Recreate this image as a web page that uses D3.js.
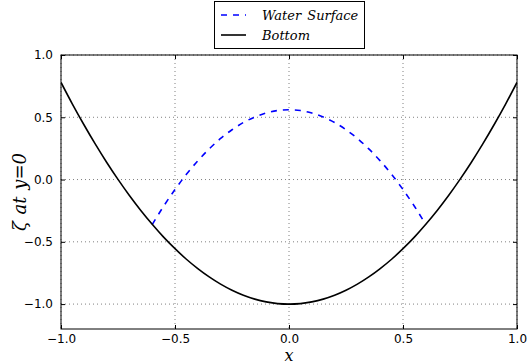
<!DOCTYPE html>
<html><head><meta charset="utf-8">
<script src="https://cdn.jsdelivr.net/npm/d3@7"></script>
<style>body{margin:0;background:#fff}svg{display:block}
.serif{font-family:"DejaVu Serif","Times New Roman",Times,serif;font-style:italic}</style>
</head><body>
<script>
const xTicks = [-1.0, -0.5, 0.0, 0.5, 1.0];
const yTicks = [-1.0, -0.5, 0.0, 0.5, 1.0];
const bottomX = [-1.0,-0.95,-0.9,-0.85,-0.8,-0.75,-0.7,-0.65,-0.6,-0.55,-0.5,-0.45,-0.4,-0.35,-0.3,-0.25,-0.2,-0.15,-0.1,-0.05,0,0.05,0.1,0.15,0.2,0.25,0.3,0.35,0.4,0.45,0.5,0.55,0.6,0.65,0.7,0.75,0.8,0.85,0.9,0.95,1.0];
const bottomY = [0.78,0.606,0.442,0.286,0.139,0.001,-0.128,-0.248,-0.359,-0.462,-0.555,-0.640,-0.715,-0.782,-0.840,-0.889,-0.929,-0.960,-0.982,-0.996,-1.0,-0.996,-0.982,-0.960,-0.929,-0.889,-0.840,-0.782,-0.715,-0.640,-0.555,-0.462,-0.359,-0.248,-0.128,0.001,0.139,0.286,0.442,0.606,0.78];
const waterX = [-0.6,-0.55,-0.5,-0.45,-0.4,-0.35,-0.3,-0.25,-0.2,-0.15,-0.1,-0.05,0,0.05,0.1,0.15,0.2,0.25,0.3,0.35,0.4,0.45,0.5,0.55,0.6];
const waterY = [-0.362,-0.214,-0.080,0.042,0.150,0.246,0.330,0.400,0.458,0.502,0.534,0.554,0.56,0.554,0.534,0.502,0.458,0.400,0.330,0.246,0.150,0.042,-0.080,-0.214,-0.362];

const W=529,H=364;
const L=61,R=517,T=55,B=329;
const svg=d3.select("body").append("svg").attr("width",W).attr("height",H);
const x=d3.scaleLinear().domain([-1,1]).range([L,R]);
const y=d3.scaleLinear().domain([-1.2,1.0]).range([B,T]);
const fmt=d=>d3.format(".1f")(d).replace("-","\u2212");

// grid
const g=svg.append("g");
xTicks.forEach(t=>g.append("line").attr("x1",x(t)).attr("x2",x(t)).attr("y1",T).attr("y2",B)
  .attr("stroke","#808080").attr("stroke-width",1).attr("stroke-dasharray","1,3"));
yTicks.forEach(t=>g.append("line").attr("x1",L).attr("x2",R).attr("y1",y(t)).attr("y2",y(t))
  .attr("stroke","#808080").attr("stroke-width",1).attr("stroke-dasharray","1,3"));

// lines
const line=d3.line().x(d=>x(d[0])).y(d=>y(d[1])).curve(d3.curveMonotoneX);
svg.append("clipPath").attr("id","c").append("rect").attr("x",L).attr("y",T).attr("width",R-L).attr("height",B-T);
svg.append("path").attr("d",line(waterX.map((v,i)=>[v,waterY[i]]))).attr("fill","none")
  .attr("stroke","#0000ff").attr("stroke-width",1.6).attr("stroke-dasharray","6,6").attr("clip-path","url(#c)");
svg.append("path").attr("d",line(bottomX.map((v,i)=>[v,bottomY[i]]))).attr("fill","none")
  .attr("stroke","#000").attr("stroke-width",1.6).attr("clip-path","url(#c)");

// axes with inward ticks
const ax=svg.append("g");
ax.append("g").attr("transform",`translate(0,${B})`).call(d3.axisBottom(x).tickValues(xTicks).tickFormat(fmt).tickSize(-4).tickPadding(5));
ax.append("g").attr("transform",`translate(0,${T})`).call(d3.axisTop(x).tickValues(xTicks).tickFormat("").tickSize(-4));
ax.append("g").attr("transform",`translate(${L},0)`).call(d3.axisLeft(y).tickValues(yTicks).tickFormat(fmt).tickSize(-4).tickPadding(8));
ax.append("g").attr("transform",`translate(${R},0)`).call(d3.axisRight(y).tickValues(yTicks).tickFormat("").tickSize(-4));
ax.selectAll(".domain").remove();
ax.selectAll("text").attr("font-family","DejaVu Sans").attr("font-size",12).attr("fill","#000");
ax.selectAll(".tick line").attr("stroke","#000");
svg.append("rect").attr("x",L).attr("y",T).attr("width",R-L).attr("height",B-T).attr("fill","none").attr("stroke","#000").attr("stroke-width",1);

// labels
svg.append("text").attr("class","serif").attr("x",x(0)).attr("y",361).attr("text-anchor","middle")
  .style("font-size","16px").text("x");
svg.append("text").attr("class","serif").attr("transform",`translate(26,${(T+B)/2}) rotate(-90)`).attr("text-anchor","middle")
  .style("font-size","18px").style("word-spacing","1px")
  .text("ζ at y=0");

// legend
const lg=svg.append("g");
lg.append("rect").attr("x",214.5).attr("y",1.5).attr("width",150).attr("height",47).attr("fill","#fff").attr("stroke","#000").attr("stroke-width",1);
lg.append("line").attr("x1",221).attr("x2",246).attr("y1",15).attr("y2",15).attr("stroke","#0000ff").attr("stroke-width",1.6).attr("stroke-dasharray","6,6");
lg.append("line").attr("x1",221).attr("x2",246).attr("y1",35).attr("y2",35).attr("stroke","#000").attr("stroke-width",1.6);
lg.append("text").attr("class","serif").attr("x",262).attr("y",20).style("font-size","13px").style("word-spacing","2px").text("Water Surface");
lg.append("text").attr("class","serif").attr("x",262).attr("y",40).style("font-size","13px").text("Bottom");
</script>
</body></html>
